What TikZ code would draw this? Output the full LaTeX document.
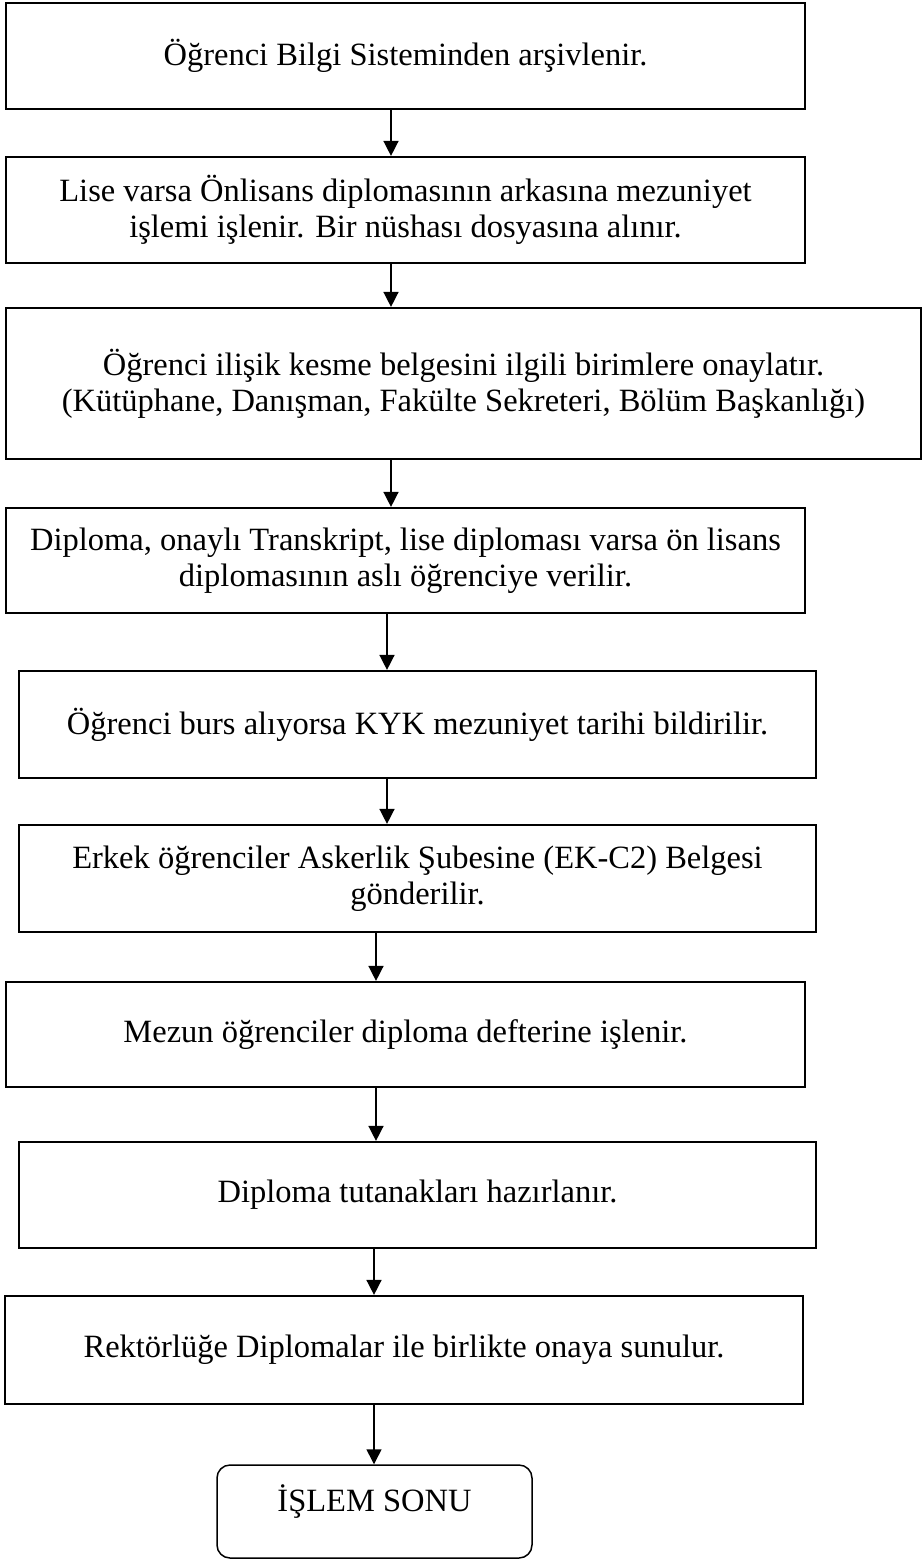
\documentclass[tikz,border=0pt]{standalone}
\usepackage{fontspec}
\setmainfont{Liberation Serif}
\usetikzlibrary{arrows.meta,positioning}
\tikzset{
  kutu/.style={draw=black,line width=2.2pt,align=center,inner sep=0pt,font=\fontsize{32.5}{36}\selectfont},
  bitis/.style={draw=black,line width=1.5pt,rounded corners=13pt,inner sep=0pt,text depth=26pt,font=\fontsize{32.5}{36}\selectfont},
  ok/.style={-{Triangle[length=15pt,width=15pt]},line width=1.5pt}
}
\begin{document}
\begin{tikzpicture}[x=1pt,y=-1pt]
\useasboundingbox (0,0) rectangle (922,1559);
\node[kutu,minimum width=799,minimum height=106] (b1) at (405.5,56) {Öğrenci Bilgi Sisteminden arşivlenir.};
\node[kutu,minimum width=799,minimum height=106] (b2) at (405.5,210) {Lise varsa Önlisans diplomasının arkasına mezuniyet\\işlemi işlenir. Bir nüshası dosyasına alınır.};
\node[kutu,minimum width=915,minimum height=151] (b3) at (463.5,383.5) {Öğrenci ilişik kesme belgesini ilgili birimlere onaylatır.\\(Kütüphane, Danışman, Fakülte Sekreteri, Bölüm Başkanlığı)};
\node[kutu,minimum width=799,minimum height=105] (b4) at (405.5,560.5) {Diploma, onaylı Transkript, lise diploması varsa ön lisans\\diplomasının aslı öğrenciye verilir.};
\node[kutu,minimum width=797,minimum height=107] (b5) at (417.5,724.5) {Öğrenci burs alıyorsa KYK mezuniyet tarihi bildirilir.};
\node[kutu,minimum width=797,minimum height=107] (b6) at (417.5,878.5) {Erkek öğrenciler Askerlik Şubesine (EK-C2) Belgesi\\gönderilir.};
\node[kutu,minimum width=799,minimum height=105] (b7) at (405.5,1034.5) {Mezun öğrenciler diploma defterine işlenir.};
\node[kutu,minimum width=797,minimum height=106] (b8) at (417.5,1195) {Diploma tutanakları hazırlanır.};
\node[kutu,minimum width=798,minimum height=108] (b9) at (404,1350) {Rektörlüğe Diplomalar ile birlikte onaya sunulur.};
\node[bitis,minimum width=315,minimum height=93] (son) at (374.5,1511.5) {İŞLEM SONU};
% ok sutunlari
\coordinate (k1) at (391,0);
\coordinate (k2) at (387,0);
\coordinate (k3) at (376,0);
\coordinate (k4) at (374,0);
\foreach \a/\b/\k in {b1/b2/k1,b2/b3/k1,b3/b4/k1,b4/b5/k2,b5/b6/k2,b6/b7/k3,b7/b8/k3,b8/b9/k4,b9/son/k4}
  \draw[ok] (\a.south -| \k) -- (\b.north -| \k);
\end{tikzpicture}
\end{document}
